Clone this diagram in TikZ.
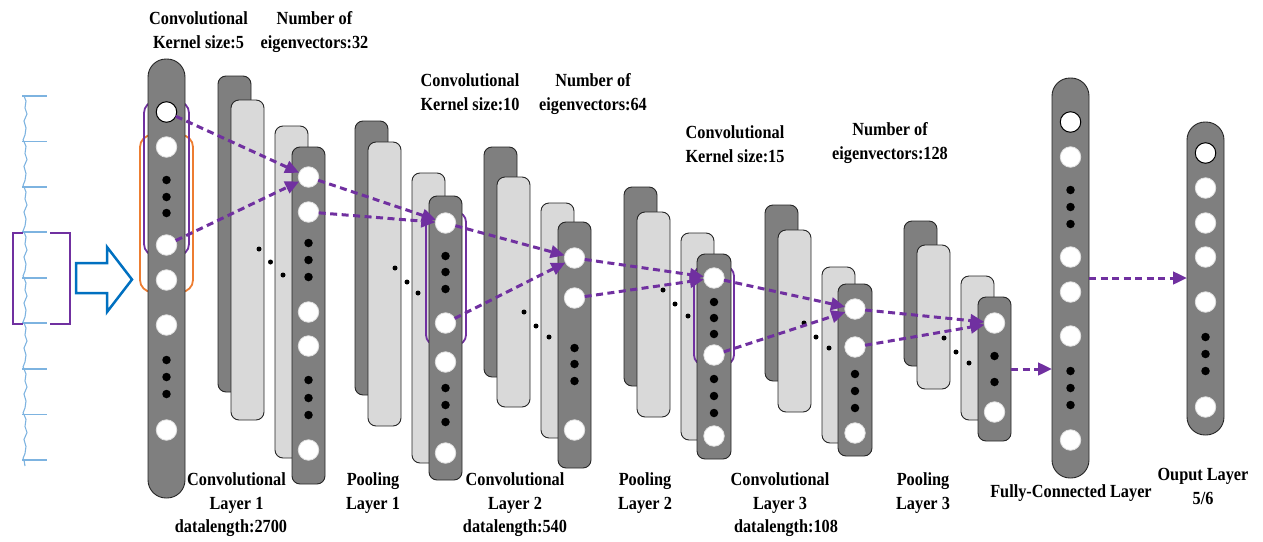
\documentclass[tikz,border=0pt]{standalone}
\usepackage{fontspec}
\setmainfont{Liberation Serif}[FakeStretch=0.88]
\usetikzlibrary{arrows.meta}
\definecolor{dkg}{HTML}{7F7F7F}
\definecolor{ltg}{HTML}{D9D9D9}
\definecolor{purp}{HTML}{7030A0}
\definecolor{orng}{HTML}{ED7D31}
\definecolor{blu}{HTML}{0070C0}
\definecolor{ecg}{HTML}{7DB3E0}
\newcommand\colbox[6]{%
  \node[#2, minimum width={(#5-#3)*1pt}, minimum height={(#6-#4)*1pt}] (#1) at ({(#3+#5)/2},{(#4+#6)/2}) {};}
\tikzset{
  layerdark/.style={draw=black!85, line width=0.9pt, fill=dkg, rounded corners=8pt, inner sep=0pt, outer sep=0pt},
  layerlight/.style={layerdark, fill=ltg},
  pill/.style={layerdark, rounded corners=18pt},
  unit/.style={circle, fill=white, draw=black!12, line width=0.8pt, minimum size=20.5pt, inner sep=0pt, outer sep=0pt},
  unitb/.style={unit, draw=black, line width=1pt},
  bigdot/.style={circle, fill=black, minimum size=8.5pt, inner sep=0pt},
  smalldot/.style={circle, fill=black, minimum size=5pt, inner sep=0pt},
  flow/.style={purp, line width=3pt, dash pattern=on 7pt off 4.5pt, -{Triangle[length=14pt,width=12.5pt]}},
  lab/.style={font=\fontsize{18.5}{23.7}\selectfont\bfseries, align=center, anchor=north, inner sep=0pt},
  hilite/.style={line width=1.8pt, rounded corners=12pt},
  sig/.style={ecg, line width=1.1pt, line join=round},
}
\begin{document}
\begin{tikzpicture}[x=1pt,y=-1pt]
\useasboundingbox (0,0) rectangle (1263,541);

% ---------- ECG signal ----------
\foreach \b in {96,141.5,187,232,278,323,369,414.5}{
  \draw[sig] (24,\b) -- (26,\b+5) -- (25,\b+12) -- (27,\b+18) -- (24,\b+25) -- (26,\b+32) -- (25,\b+39) -- (23,\b+44) -- (24,\b+45.5);
}
\draw[sig] (24,460) -- (25,466);
\foreach \b in {96,141.5,187,232,278,323,369,414.5,460}{
  \draw[sig] (22,\b) -- (47,\b);
}
% bracket
\draw[purp, line width=2pt] (23,232.5) -- (12.5,232.5) -- (12.5,324) -- (23,324);
\draw[purp, line width=2pt] (50,232.5) -- (70,232.5) -- (70,324) -- (50,324);
% block arrow
\draw[blu, line width=2.5pt, line join=miter] (76,263) -- (107,263) -- (107,247) -- (132,279.5) -- (107,312) -- (107,293) -- (76,293) -- cycle;

% ---------- input column ----------
\draw[orng, hilite] (140,135) rectangle (193,292);
\draw[purp, hilite] (144,101) rectangle (189,256);
\colbox{incol}{pill}{148}{59}{185}{498}
\node[unitb] (in1) at (166.5,112) {};
\foreach \y [count=\i from 2] in {147,245,280,325,430} \node[unit] (in\i) at (166.5,\y) {};
\foreach \y [count=\i] in {180,197,213,360,377,394} \node[bigdot] (ind\i) at (166.5,\y) {};

% ---------- conv layer 1 ----------
\colbox{l1a}{layerdark}{218}{76}{251}{392}
\colbox{l1b}{layerlight}{231}{100}{264}{420}
\colbox{l1c}{layerlight}{275}{126}{308}{458}
\colbox{l1d}{layerdark}{292}{147}{325}{484}
\foreach \y [count=\i] in {177,212,312,346,450} \node[unit] (l1c\i) at (308.5,\y) {};
\foreach \y [count=\i] in {243,260,277,380,398,415} \node[bigdot] (l1d\i) at (308.5,\y) {};
\node[smalldot] (l1s1) at (259,249) {};
\node[smalldot] (l1s2) at (270.5,262) {};
\node[smalldot] (l1s3) at (283,275) {};

% ---------- pooling layer 1 ----------
\colbox{p1a}{layerdark}{355}{121}{388}{395}
\colbox{p1b}{layerlight}{368}{142}{401}{426}
\colbox{p1c}{layerlight}{412}{173}{445}{463}
\draw[purp, hilite, rounded corners=10pt] (426,212) rectangle (466,345);
\colbox{p1d}{layerdark}{429}{196}{462}{480}
\foreach \y [count=\i] in {223,323,362,453} \node[unit] (p1c\i) at (445.5,\y) {};
\foreach \y [count=\i] in {256,272,289,388,405,422} \node[bigdot] (p1d\i) at (445.5,\y) {};
\node[smalldot] (p1s1) at (395,268) {};
\node[smalldot] (p1s2) at (407,282) {};
\node[smalldot] (p1s3) at (418,293) {};

% ---------- conv layer 2 ----------
\colbox{l2a}{layerdark}{484}{147}{517}{377}
\colbox{l2b}{layerlight}{497}{177}{530}{407}
\colbox{l2c}{layerlight}{541}{203}{574}{438}
\colbox{l2d}{layerdark}{558}{222}{591}{468}
\foreach \y [count=\i] in {258,298,430} \node[unit] (l2c\i) at (574.5,\y) {};
\foreach \y [count=\i] in {348,364,381} \node[bigdot] (l2d\i) at (574.5,\y) {};
\node[smalldot] (l2s1) at (524,312) {};
\node[smalldot] (l2s2) at (536,326) {};
\node[smalldot] (l2s3) at (549,337) {};

% ---------- pooling layer 2 ----------
\colbox{p2a}{layerdark}{624}{187}{657}{386}
\colbox{p2b}{layerlight}{637}{212}{670}{417}
\colbox{p2c}{layerlight}{681}{233}{714}{440}
\draw[purp, hilite, rounded corners=10pt] (694,266) rectangle (734,365);
\colbox{p2d}{layerdark}{697}{254}{731}{459}
\foreach \y [count=\i] in {278,355,436} \node[unit] (p2c\i) at (714,\y) {};
\foreach \y [count=\i] in {302,318,334,379,396,413} \node[bigdot] (p2d\i) at (714,\y) {};
\node[smalldot] (p2s1) at (663,290) {};
\node[smalldot] (p2s2) at (675,304) {};
\node[smalldot] (p2s3) at (688,316) {};

% ---------- conv layer 3 ----------
\colbox{l3a}{layerdark}{765}{205}{798}{381}
\colbox{l3b}{layerlight}{778}{230}{811}{412}
\colbox{l3c}{layerlight}{822}{267}{855}{443}
\colbox{l3d}{layerdark}{838}{284}{872}{456}
\foreach \y [count=\i] in {309,347,433} \node[unit] (l3c\i) at (855,\y) {};
\foreach \y [count=\i] in {374,391,408} \node[bigdot] (l3d\i) at (855,\y) {};
\node[smalldot] (l3s1) at (804,323) {};
\node[smalldot] (l3s2) at (816,337) {};
\node[smalldot] (l3s3) at (829,348) {};

% ---------- pooling layer 3 ----------
\colbox{p3a}{layerdark}{904}{221}{937}{366}
\colbox{p3b}{layerlight}{917}{245}{950}{389}
\colbox{p3c}{layerlight}{961}{276}{994}{420}
\colbox{p3d}{layerdark}{978}{297}{1011}{441}
\foreach \y [count=\i] in {323,412} \node[unit] (p3c\i) at (994.5,\y) {};
\foreach \y [count=\i] in {356,382} \node[bigdot] (p3d\i) at (994.5,\y) {};
\node[smalldot] (p3s1) at (944,338) {};
\node[smalldot] (p3s2) at (956,352) {};
\node[smalldot] (p3s3) at (969,363) {};

% ---------- fully connected ----------
\colbox{fc}{pill}{1052}{78}{1089}{478}
\node[unitb] (fc1) at (1070.5,122) {};
\foreach \y [count=\i from 2] in {157,257,292,336,440} \node[unit] (fc\i) at (1070.5,\y) {};
\foreach \y [count=\i] in {190,207,224,371,388,405} \node[bigdot] (fcd\i) at (1070.5,\y) {};

% ---------- output ----------
\colbox{out}{pill}{1187}{122}{1224}{435}
\node[unitb] (o1) at (1205.5,153) {};
\foreach \y [count=\i from 2] in {188,223,257,302,407} \node[unit] (o\i) at (1205.5,\y) {};
\foreach \y [count=\i] in {337,354,371} \node[bigdot] (od\i) at (1205.5,\y) {};

% ---------- connections ----------
\draw[flow] (in1) -- (l1c1);
\draw[flow] (in3) -- (l1c1);
\draw[flow] (l1c1) -- (p1c1);
\draw[flow] (l1c2) -- (p1c1);
\draw[flow] (p1c1) -- (l2c1);
\draw[flow] (p1c2) -- (l2c1);
\draw[flow] (l2c1) -- (p2c1);
\draw[flow] (l2c2) -- (p2c1);
\draw[flow] (p2c1) -- (l3c1);
\draw[flow] (p2c2) -- (l3c1);
\draw[flow] (l3c1) -- (p3c1);
\draw[flow] (l3c2) -- (p3c1);
\draw[flow] (p3d.east) -- (p3d.east -| fc.west);
\draw[flow] (fc.east) -- (fc.east -| out.west);

% ---------- labels ----------
\node[lab] (t1) at (198.5,11.4) {Convolutional\\Kernel size:5};
\node[lab] (t2) at (314.5,11.4) {Number of\\eigenvectors:32};
\node[lab] (t3) at (470,73.4) {Convolutional\\Kernel size:10};
\node[lab] (t4) at (593,73.4) {Number of\\eigenvectors:64};
\node[lab] (t5) at (735,125.7) {Convolutional\\Kernel size:15};
\node[lab] (t6) at (890,122.4) {Number of\\eigenvectors:128};
\node[lab] (b1) at (236.5,472.5) {Convolutional\\Layer 1\\datalength:2700\hspace*{11pt}};
\node[lab] (b2) at (373,472.5) {Pooling\\Layer 1};
\node[lab] (b3) at (515,472.5) {Convolutional\\Layer 2\\datalength:540};
\node[lab] (b4) at (645,472.5) {Pooling\\Layer 2};
\node[lab] (b5) at (780,472.5) {Convolutional\\Layer 3\\\hspace*{12pt}datalength:108};
\node[lab] (b6) at (923,472.5) {Pooling\\Layer 3};
\node[lab] (b7) at (1071,484.7) {Fully-Connected Layer};
\node[lab] (b8) at (1203,468) {Ouput Layer\\5/6};
\end{tikzpicture}
\end{document}
